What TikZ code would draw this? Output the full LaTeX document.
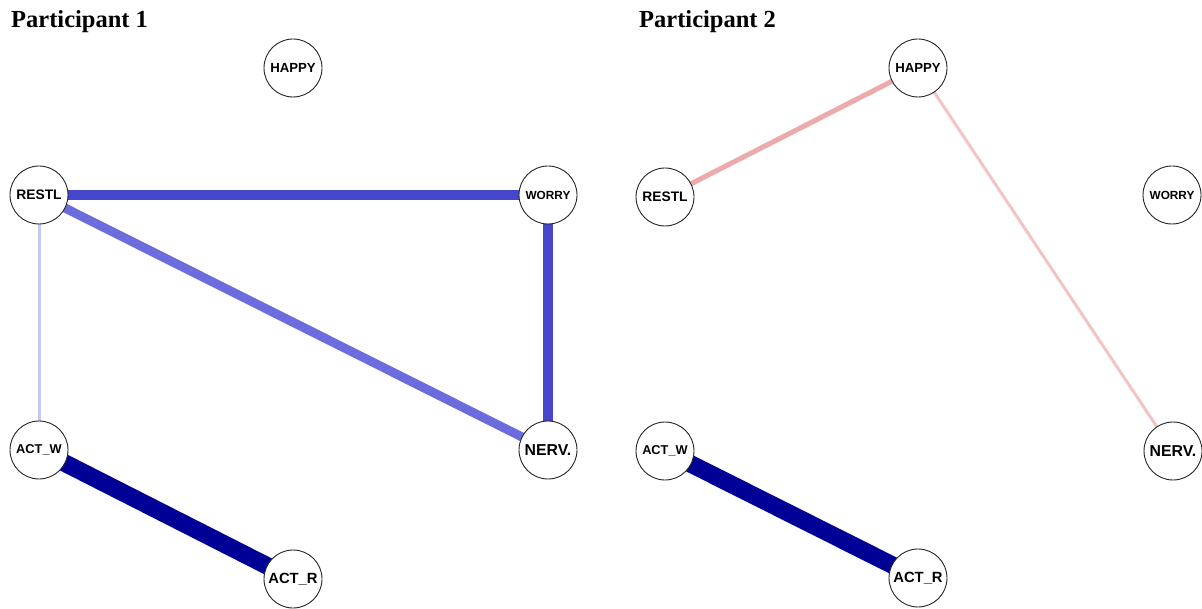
\documentclass[tikz,border=0pt]{standalone}
\usepackage{fontspec}
\setmainfont{Liberation Serif}
\setsansfont{Liberation Sans}
\usetikzlibrary{backgrounds}
\definecolor{eblue}{RGB}{70,70,204}
\definecolor{elblue}{RGB}{108,108,220}
\definecolor{elav}{RGB}{200,200,236}
\definecolor{enavy}{RGB}{0,0,150}
\definecolor{epink}{RGB}{236,170,170}
\definecolor{elpink}{RGB}{242,196,196}
\begin{document}
\begin{tikzpicture}[x=1pt,y=-1pt,
  vnode/.style={circle,draw=black!85,line width=0.9pt,fill=white,minimum size=58pt,inner sep=0pt,
    font=\sffamily\bfseries\fontsize{#1}{#1}\selectfont},
  ttl/.style={anchor=base west,inner sep=0pt,font=\fontsize{24.5}{28}\selectfont\bfseries},
  edge/.style={line cap=butt}]
\useasboundingbox (0,0) rectangle (1202,609);
% titles
\node[ttl] (t1) at (11,28) {Participant 1};
\node[ttl] (t2) at (639,28) {Participant 2};
% participant 1 nodes
\node[vnode=13.2] (happy1) at (293,68) {HAPPY};
\node[vnode=13.8] (restl1) at (39,195) {RESTL};
\node[vnode=11.8] (worry1) at (548,195) {WORRY};
\node[vnode=12.8] (actw1) at (39,450) {ACT\_W};
\node[vnode=15.8] (nerv1) at (548,450) {NERV.};
\node[vnode=14.8] (actr1) at (293,579) {ACT\_R};
% participant 2 nodes
\node[vnode=13.2] (happy2) at (918,68) {HAPPY};
\node[vnode=13.8] (restl2) at (665,197) {RESTL};
\node[vnode=11.8] (worry2) at (1172,195) {WORRY};
\node[vnode=12.8] (actw2) at (665,451) {ACT\_W};
\node[vnode=15.8] (nerv2) at (1173,451) {NERV.};
\node[vnode=14.8] (actr2) at (918,578) {ACT\_R};
\begin{pgfonlayer}{background}
\fill[white] (0,0) rectangle (1202,609);
% participant 1 edges
\draw[edge,elav,line width=3pt] (restl1.center) -- (actw1.center);
\draw[edge,elblue,line width=9pt] (restl1.center) -- (nerv1.center);
\draw[edge,eblue,line width=10.5pt] (restl1.center) -- (worry1.center);
\draw[edge,eblue,line width=10.5pt] (worry1.center) -- (nerv1.center);
\draw[edge,enavy,line width=17.5pt] (actw1.center) -- (actr1.center);
% participant 2 edges
\draw[edge,epink,line width=5pt] (happy2.center) -- (restl2.center);
\draw[edge,elpink,line width=3pt] (happy2.center) -- (nerv2.center);
\draw[edge,enavy,line width=17.5pt] (actw2.center) -- (actr2.center);
\end{pgfonlayer}
\end{tikzpicture}
\end{document}
